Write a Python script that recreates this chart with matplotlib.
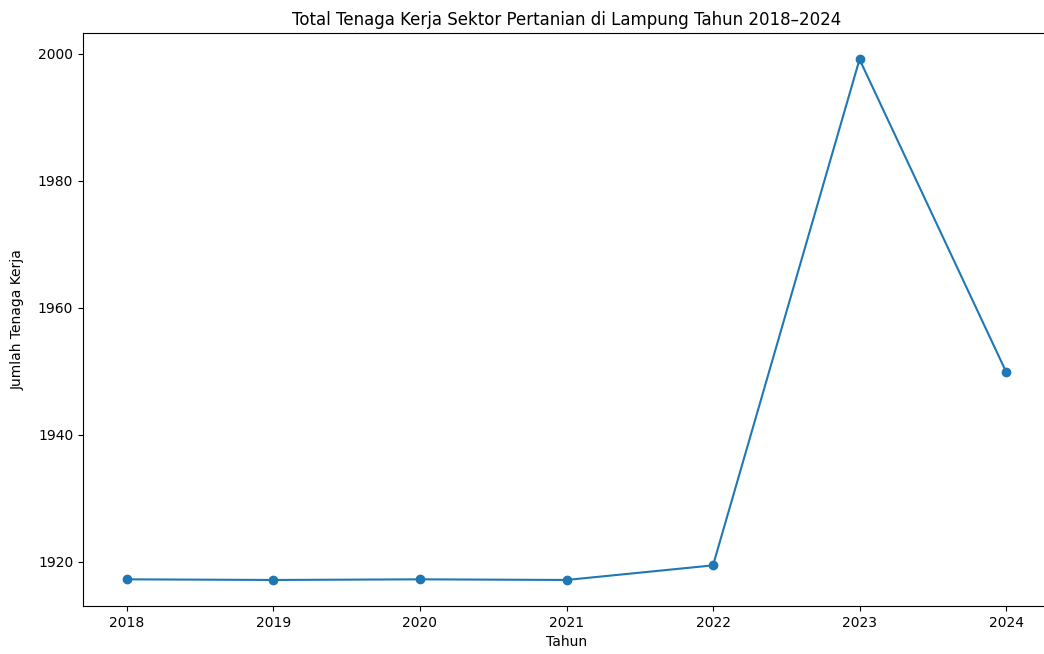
import matplotlib
matplotlib.use("Agg")
import matplotlib.pyplot as plt

# Data
tahun = [2018, 2019, 2020, 2021, 2022, 2023, 2024]
tenaga_kerja = [1917.2, 1917.1, 1917.2, 1917.1, 1919.4, 1999.1, 1949.9]

fig = plt.figure(figsize=(10.44, 6.54), dpi=100)
# the reference is cropped on the right, so the axes run past the figure edge
ax = fig.add_axes([83 / 1044, 1 - 606 / 654, 967 / 1044, 572.7 / 654])

ax.plot(tahun, tenaga_kerja, marker='o', color='#1f77b4')

ax.set_title("Total Tenaga Kerja Sektor Pertanian di Lampung Tahun 2018–2024")
ax.set_xlabel("Tahun")
ax.set_ylabel("Jumlah Tenaga Kerja")
ax.yaxis.set_label_coords(-58 / 967, 0.5)
ax.set_xticks(tahun)
ax.spines['right'].set_visible(False)

fig.savefig("out.png", dpi=100)
